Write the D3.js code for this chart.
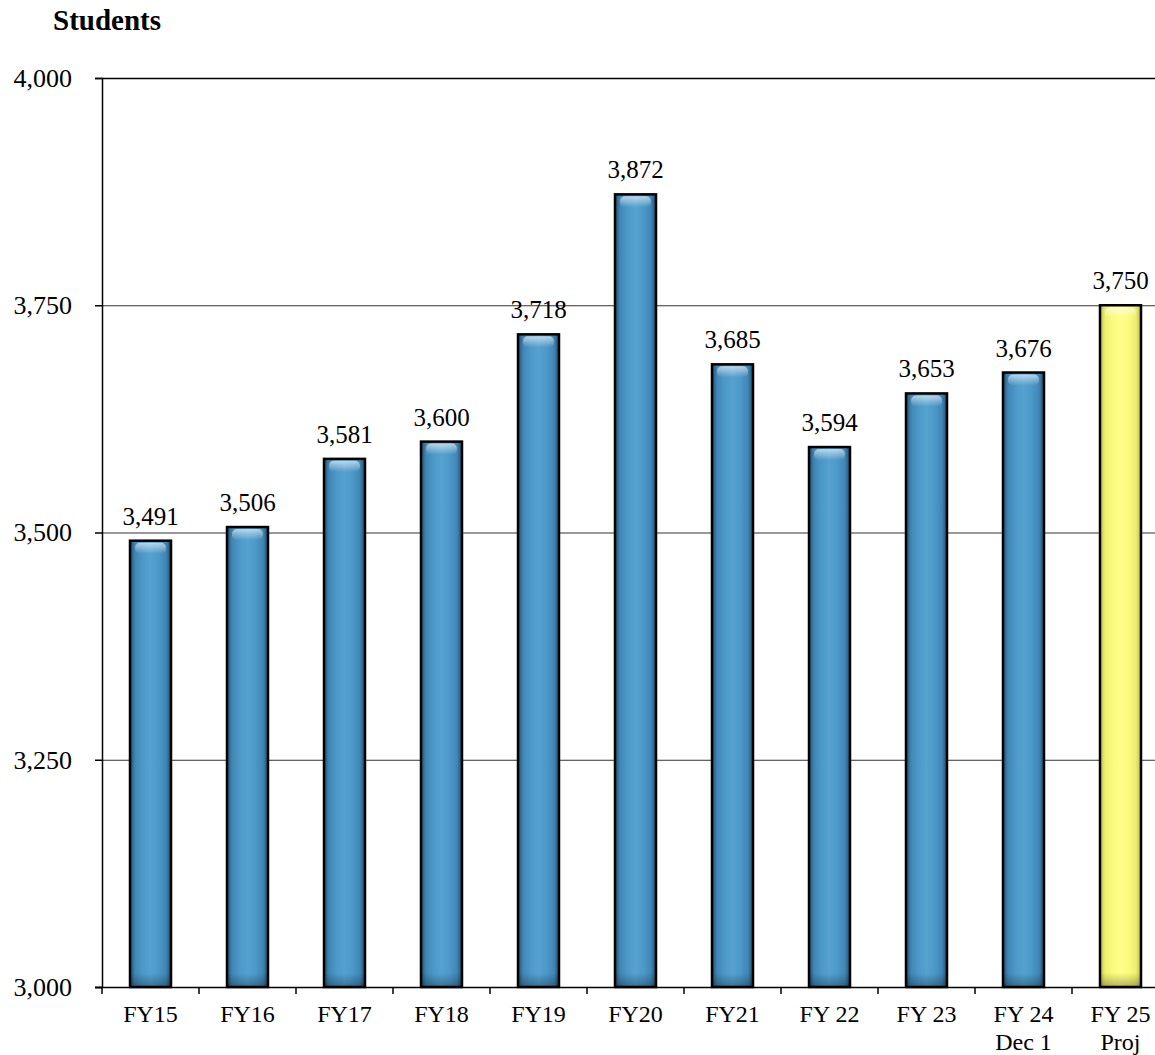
<!DOCTYPE html>
<html><head><meta charset="utf-8">
<script src="https://cdn.jsdelivr.net/npm/d3@7"></script>
<style>body{margin:0;background:#fff}svg{display:block;font-family:"Liberation Serif","Times New Roman",serif}</style>
</head><body><svg id="c" width="1155" height="1055"></svg>
<script>
const categories = [["FY15"],["FY16"],["FY17"],["FY18"],["FY19"],["FY20"],["FY21"],["FY 22"],["FY 23"],["FY 24","Dec 1"],["FY 25","Proj"]];
const values = [3491,3506,3581,3600,3718,3872,3685,3594,3653,3676,3750];
const projected = [false,false,false,false,false,false,false,false,false,false,true];
const yTicks = [3000,3250,3500,3750,4000];

(function(){
const svg = d3.select("#c");
const mLeft = 102, mTop = 78, mBottom = 987, bandW = 97;
const x = d3.scaleBand().domain(d3.range(categories.length)).range([mLeft, mLeft + bandW*categories.length]).paddingInner(0).paddingOuter(0);
const y = d3.scaleLinear().domain([3000,4000]).range([mBottom, mTop]);
const fmt = d3.format(",");

const defs = svg.append("defs");
function grad(id, stops){
  const g = defs.append("linearGradient").attr("id", id).attr("x1","0").attr("x2","1").attr("y1","0").attr("y2","0");
  stops.forEach(s=>g.append("stop").attr("offset",s[0]).attr("stop-color",s[1]));
}
grad("gBlue",[["0%","#1F4D6B"],["12%","#3F86B5"],["30%","#4C98C8"],["50%","#55A2D1"],["70%","#4C98C8"],["88%","#3F86B5"],["100%","#1F4D6B"]]);
grad("gYel",[["0%","#B8B84A"],["12%","#EDED70"],["30%","#FAFA7C"],["50%","#FFFF88"],["70%","#FAFA7C"],["88%","#EDED70"],["100%","#B8B84A"]]);
const hl = defs.append("linearGradient").attr("id","hl").attr("x1","0").attr("x2","0").attr("y1","0").attr("y2","1");
hl.append("stop").attr("offset","0%").attr("stop-color","#fff").attr("stop-opacity",0.6);
hl.append("stop").attr("offset","100%").attr("stop-color","#fff").attr("stop-opacity",0);
const sh = defs.append("linearGradient").attr("id","sh").attr("x1","0").attr("x2","0").attr("y1","0").attr("y2","1");
sh.append("stop").attr("offset","0%").attr("stop-color","#000").attr("stop-opacity",0);
sh.append("stop").attr("offset","100%").attr("stop-color","#000").attr("stop-opacity",0.3);

// gridlines
svg.append("g").selectAll("line").data(yTicks.filter(t=>t>3000)).join("line")
  .attr("x1", mLeft).attr("x2", 1155).attr("y1", d=>y(d)+0.5).attr("y2", d=>y(d)+0.5)
  .attr("stroke", d=> d===4000 ? "#000" : "#333").attr("stroke-width", d=> d===4000?1.5:1);

// y axis
const ya = svg.append("g").attr("transform",`translate(${mLeft},0)`)
  .call(d3.axisLeft(y).tickValues(yTicks).tickFormat(fmt).tickSize(7).tickPadding(23));
ya.attr("font-size",null).attr("font-family",null);
ya.select(".domain").attr("stroke","#000").attr("stroke-width",1.5);
ya.selectAll(".tick line").attr("stroke","#000").attr("stroke-width",1.5);
ya.selectAll("text").style("font-family","'Liberation Serif',serif").style("font-size","26px").attr("fill","#000");

// bars
const bw = 41;
const bars = svg.append("g").selectAll("g").data(values).join("g");
bars.append("rect")
  .attr("x",(d,i)=>x(i)+x.bandwidth()/2-bw/2).attr("width",bw)
  .attr("y",d=>y(d)).attr("height",d=>mBottom-y(d))
  .attr("fill",(d,i)=>projected[i]?"url(#gYel)":"url(#gBlue)");
bars.append("rect")
  .attr("x",(d,i)=>x(i)+x.bandwidth()/2-bw/2+5).attr("width",bw-10)
  .attr("y",d=>y(d)+2).attr("height",11).attr("rx",5)
  .attr("fill","url(#hl)");
bars.append("rect")
  .attr("x",(d,i)=>x(i)+x.bandwidth()/2-bw/2).attr("width",bw)
  .attr("y",mBottom-14).attr("height",14)
  .attr("fill","url(#sh)");
bars.append("rect")
  .attr("x",(d,i)=>x(i)+x.bandwidth()/2-bw/2).attr("width",bw)
  .attr("y",d=>y(d)).attr("height",d=>mBottom-y(d))
  .attr("fill","none").attr("stroke","#000").attr("stroke-width",2.5);

// value labels
svg.append("g").selectAll("text").data(values).join("text")
  .attr("x",(d,i)=>x(i)+x.bandwidth()/2).attr("y",d=>y(d)-16)
  .attr("text-anchor","middle").attr("font-size",25).attr("fill","#000")
  .text(d=>fmt(d));

// x axis
svg.append("line").attr("x1",mLeft-7).attr("x2",1155).attr("y1",mBottom+0.5).attr("y2",mBottom+0.5).attr("stroke","#000").attr("stroke-width",1.5);
svg.append("g").selectAll("line").data(d3.range(categories.length)).join("line")
  .attr("x1",i=>x(i)).attr("x2",i=>x(i)).attr("y1",mBottom).attr("y2",mBottom+7)
  .attr("stroke","#000").attr("stroke-width",1.5);
const xl = svg.append("g").selectAll("text").data(categories).join("text")
  .attr("x",(d,i)=>x(i)+x.bandwidth()/2).attr("y",1022)
  .attr("text-anchor","middle").attr("font-size",24).attr("fill","#000");
xl.selectAll("tspan").data(d=>d).join("tspan")
  .attr("x",function(){return d3.select(this.parentNode).attr("x");})
  .attr("dy",(d,j)=>j===0?0:28).text(d=>d);

// title
svg.append("text").attr("x",53).attr("y",30).attr("font-size",29).attr("font-weight","bold").text("Students");
})();
</script></body></html>
